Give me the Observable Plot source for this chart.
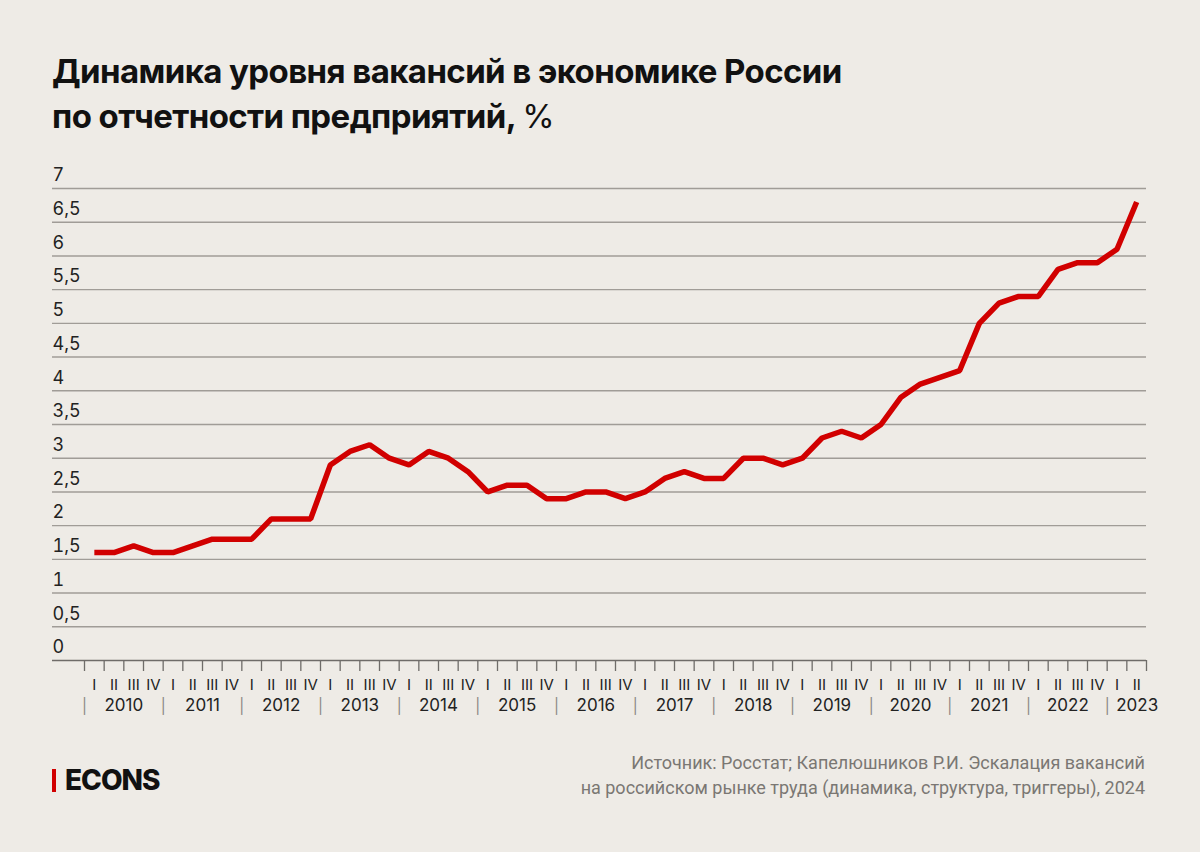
<!DOCTYPE html>
<html>
<head>
<meta charset="utf-8">
<script src="https://cdn.jsdelivr.net/npm/d3@7"></script>
<script src="https://cdn.jsdelivr.net/npm/@observablehq/plot@0.6"></script>
<style>
  html, body { margin: 0; padding: 0; background: #eeebe6; }
  #page { position: relative; width: 1200px; height: 852px; background: #eeebe6; overflow: hidden; font-family: Inter, Roboto, sans-serif; }
  #title { position: absolute; left: 52px; top: 49px; font-family: Inter, sans-serif; font-weight: 700; font-size: 33px; line-height: 45px; color: #111; letter-spacing: -0.6px; }
  #title .pct { font-weight: 400; }
  #chart { position: absolute; left: 0; top: 150px; }
  #logo { position: absolute; left: 52px; top: 765px; height: 28px; }
  #logo .bar { position: absolute; left: 0; top: 4px; width: 4px; height: 23px; background: #d10000; }
  #logo .txt { position: absolute; left: 13px; top: 0; font-family: Inter, sans-serif; font-weight: 800; font-size: 28px; line-height: 30px; color: #111; letter-spacing: -1px; }
  #source { position: absolute; right: 55px; top: 750px; text-align: right; font-family: Roboto, sans-serif; font-size: 18px; line-height: 25px; color: #7a7773; }
</style>
</head>
<body>
<div id="page">
  <div id="title">Динамика уровня вакансий в экономике России<br>по отчетности предприятий, <span class="pct">%</span></div>
  <div id="chart"></div>
  <div id="logo"><div class="bar"></div><div class="txt">ECONS</div></div>
  <div id="source">Источник: Росстат; Капелюшников Р.И. Эскалация вакансий<br>на российском рынке труда (динамика, структура, триггеры), 2024</div>
</div>
<script>
// Data: quarterly vacancy rate, %, 2010 Q1 – 2023 Q2
const years = [2010, 2011, 2012, 2013, 2014, 2015, 2016, 2017, 2018, 2019, 2020, 2021, 2022, 2023];
const quarterLabels = ["I", "II", "III", "IV"];
const values = [
  1.6, 1.6, 1.7, 1.6,   // 2010
  1.6, 1.7, 1.8, 1.8,   // 2011
  1.8, 2.1, 2.1, 2.1,   // 2012
  2.9, 3.1, 3.2, 3.0,   // 2013
  2.9, 3.1, 3.0, 2.8,   // 2014
  2.5, 2.6, 2.6, 2.4,   // 2015
  2.4, 2.5, 2.5, 2.4,   // 2016
  2.5, 2.7, 2.8, 2.7,   // 2017
  2.7, 3.0, 3.0, 2.9,   // 2018
  3.0, 3.3, 3.4, 3.3,   // 2019
  3.5, 3.9, 4.1, 4.2,   // 2020
  4.3, 5.0, 5.3, 5.4,   // 2021
  5.4, 5.8, 5.9, 5.9,   // 2022
  6.1, 6.8              // 2023
];
const yTicks = [0, 0.5, 1, 1.5, 2, 2.5, 3, 3.5, 4, 4.5, 5, 5.5, 6, 6.5, 7];

const n = values.length;
const data = values.map((v, i) => ({i, x: i + 0.5, v}));
const boundaries = d3.range(0, n + 1);
const centers = d3.range(n).map(i => i + 0.5);
const yearStarts = years.map((y, k) => ({year: y, start: k * 4, full: k * 4 + 4 <= n}));
const fmt = d => String(d).replace(".", ",");

const chart = Plot.plot({
  width: 1200,
  height: 580,
  marginLeft: 84,
  marginRight: 54,
  marginTop: 38,
  marginBottom: 70,
  style: {background: "transparent", fontFamily: "Inter, Roboto, sans-serif", color: "#222"},
  x: {domain: [0, n], axis: null, label: null},
  y: {domain: [0, 7], axis: null, label: null},
  marks: [
    Plot.gridY(yTicks.filter(d => d > 0), {stroke: "#a09c97", strokeOpacity: 1, strokeWidth: 1.4, insetLeft: -32}),
    Plot.ruleY([0], {stroke: "#6f6c69", strokeWidth: 1.6, insetLeft: -32}),
    Plot.axisY(yTicks, {anchor: "left", label: null, tickSize: 0, tickPadding: 0, textAnchor: "start", dx: -32, dy: -13, fontSize: 18, tickFormat: fmt, fill: "#222"}),
    Plot.axisX(boundaries, {anchor: "bottom", label: null, tickSize: 11, tickFormat: () => "", stroke: "#6f6c69", strokeWidth: 1.3}),
    Plot.axisX(centers, {anchor: "bottom", label: null, tickSize: 0, tickPadding: 19, fontSize: 15, fill: "#222", tickFormat: d => quarterLabels[Math.floor(d) % 4]}),
    Plot.text(yearStarts, {x: "start", text: () => "|", frameAnchor: "bottom", dy: 50, fontSize: 15, fill: "#8a8783"}),
    Plot.text(yearStarts.filter(d => d.full), {x: d => d.start + 2, text: d => String(d.year), frameAnchor: "bottom", dy: 50, fontSize: 17, fill: "#222"}),
    Plot.text(yearStarts.filter(d => !d.full), {x: "start", text: d => String(d.year), frameAnchor: "bottom", textAnchor: "start", dx: 9, dy: 50, fontSize: 17, fill: "#222"}),
    Plot.line(data, {x: "x", y: "v", stroke: "#d10000", strokeWidth: 5.5, strokeLinejoin: "miter", strokeLinecap: "butt"})
  ]
});
document.getElementById("chart").appendChild(chart);
</script>
</body>
</html>
